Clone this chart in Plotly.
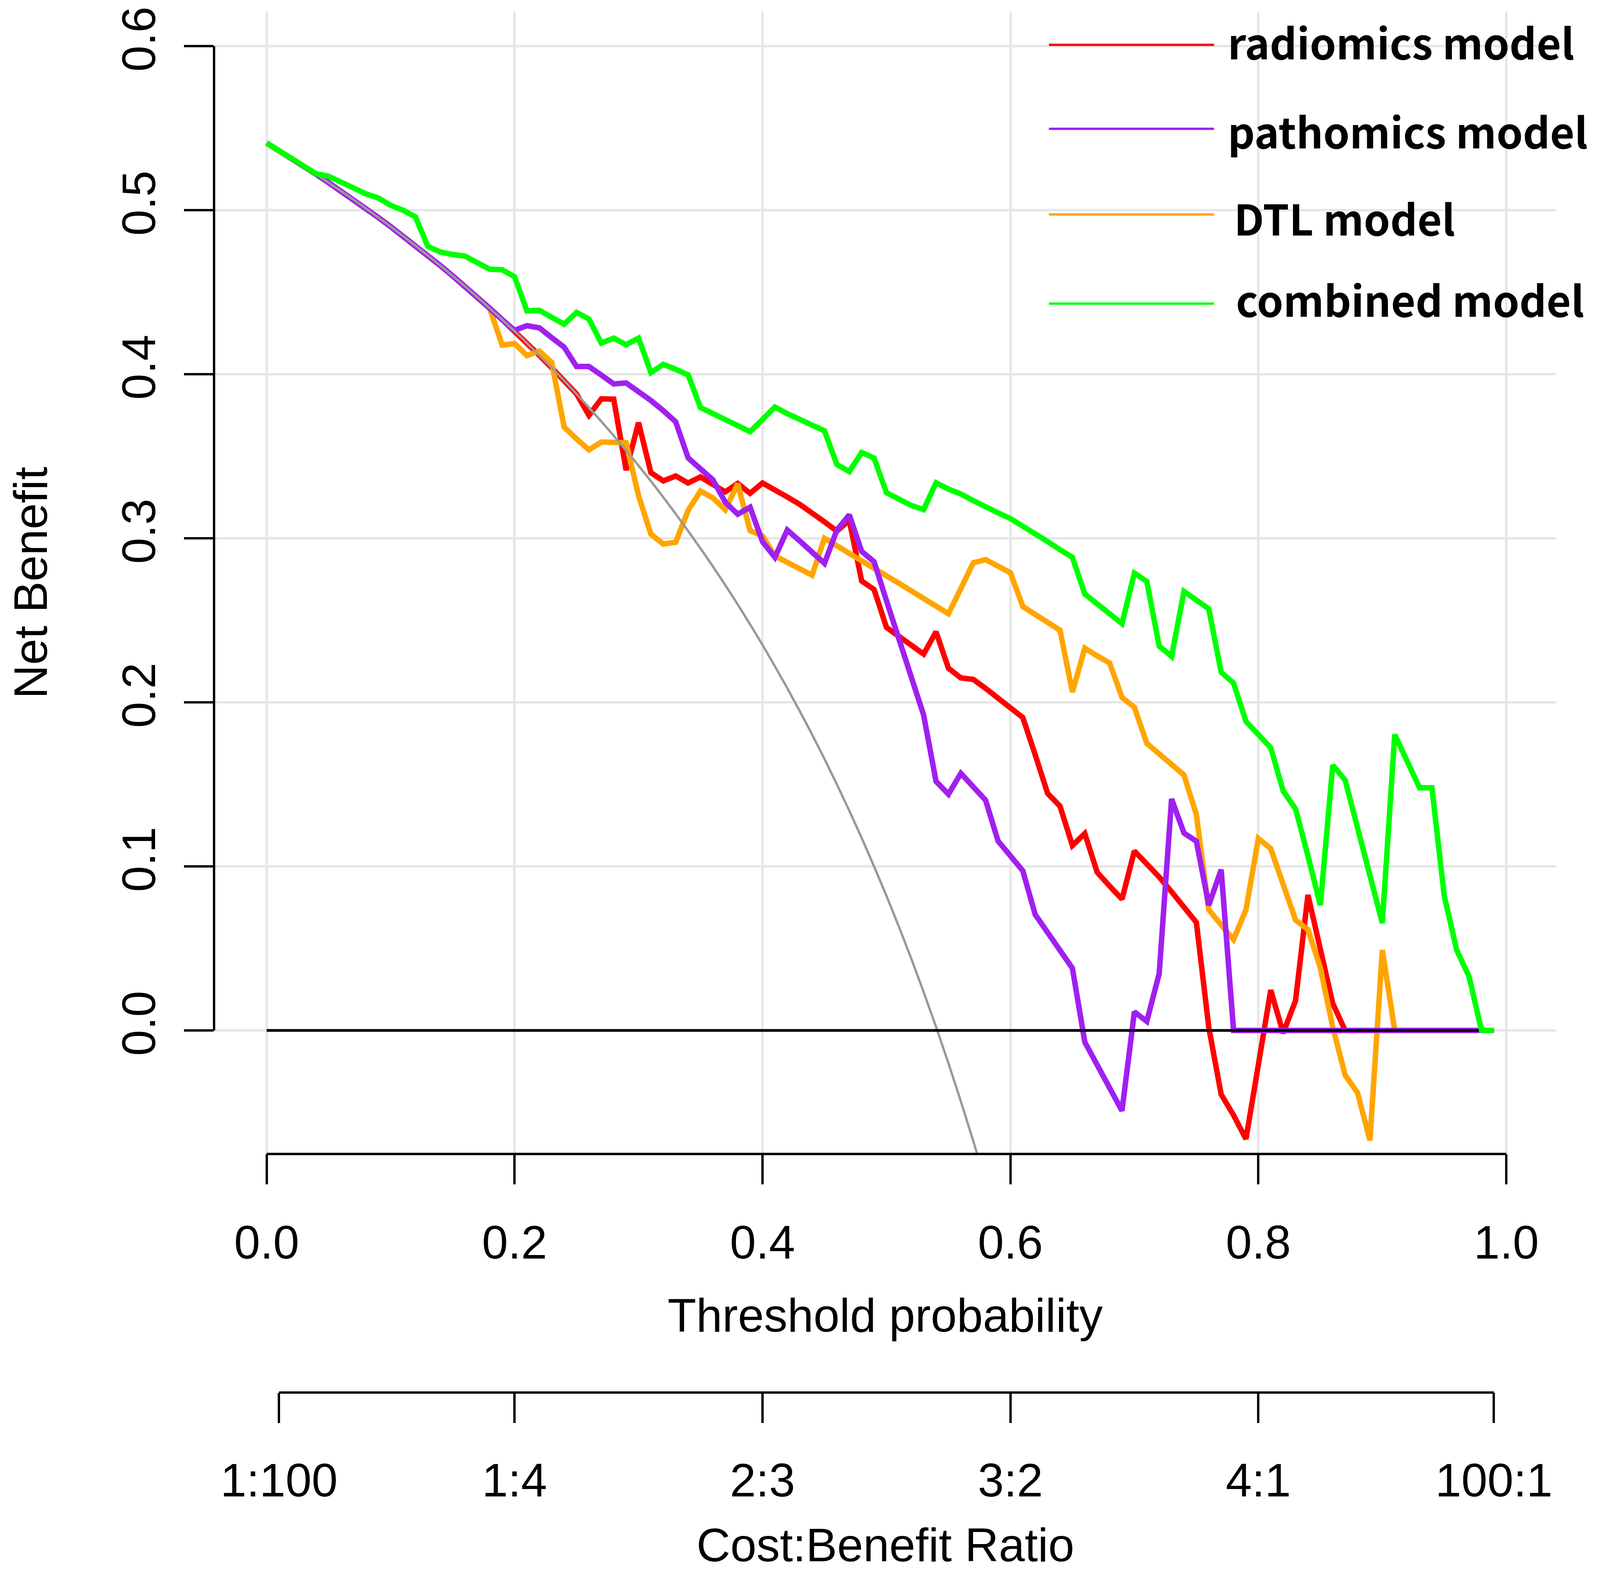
import plotly.graph_objects as go

# threshold grid (0.00 .. 0.99)
thresholds = [round(i / 100, 2) for i in range(100)]

# treat-all reference curve (0.00 .. 0.58)
treat_all = [0.541, 0.5364, 0.5316, 0.5268, 0.5219, 0.5168, 0.5117, 0.5065, 0.5011, 0.4956,
             0.4900, 0.4843, 0.4784, 0.4724, 0.4663, 0.4600, 0.4536, 0.4470, 0.4402, 0.4333,
             0.4263, 0.4190, 0.4115, 0.4039, 0.3961, 0.3880, 0.3797, 0.3712, 0.3625, 0.3535,
             0.3443, 0.3348, 0.3250, 0.3149, 0.3045, 0.2938, 0.2828, 0.2714, 0.2597, 0.2475,
             0.2350, 0.2220, 0.2086, 0.1947, 0.1804, 0.1655, 0.1500, 0.1340, 0.1173, 0.1000,
             0.0820, 0.0633, 0.0438, 0.0234, 0.0022, -0.0200, -0.0432, -0.0674, -0.0929]

radiomics = [0.541, 0.5364, 0.5316, 0.5268, 0.5219, 0.5168, 0.5117, 0.5065, 0.5011, 0.4956,
             0.4900, 0.4843, 0.4784, 0.4724, 0.4663, 0.4600, 0.4536, 0.4470, 0.4402, 0.4333,
             0.4263, 0.4190, 0.4115, 0.4039, 0.3961, 0.3880, 0.375, 0.385, 0.3848, 0.3415,
             0.3705, 0.340, 0.335, 0.338, 0.3337, 0.3374, 0.3328, 0.3283, 0.3334, 0.3274,
             0.3337, 0.3298, 0.3252, 0.3207, 0.3157, 0.310, 0.3044, 0.311, 0.274, 0.2688,
             0.2457, 0.240, 0.2348, 0.2294, 0.243, 0.2208, 0.2149, 0.214, 0.2085, 0.2027,
             0.1967, 0.1907, 0.168, 0.1445, 0.1367, 0.1127, 0.120, 0.0964, 0.088, 0.080,
             0.1094, 0.102, 0.0935, 0.0845, 0.0754, 0.0658, 0.0019, -0.039, -0.0517, -0.0662,
             -0.021, 0.0246, -0.0017, 0.0182, 0.0826, 0.051, 0.0164, 0.0, 0.0, 0.0,
             0.0, 0.0, 0.0, 0.0, 0.0, 0.0, 0.0, 0.0, 0.0, 0.0]

pathomics = [0.541, 0.5364, 0.5316, 0.5268, 0.5219, 0.5168, 0.5117, 0.5065, 0.5011, 0.4956,
             0.4900, 0.4843, 0.4784, 0.4724, 0.4663, 0.4600, 0.4536, 0.4470, 0.4402, 0.4333,
             0.4268, 0.4296, 0.4283, 0.4223, 0.4165, 0.4047, 0.4047, 0.3995, 0.3941, 0.3947,
             0.3896, 0.384, 0.3778, 0.371, 0.349, 0.342, 0.3356, 0.322, 0.3147, 0.3189,
             0.298, 0.2884, 0.305, 0.2984, 0.2917, 0.2847, 0.305, 0.3143, 0.292, 0.2857,
             0.262, 0.2385, 0.2158, 0.1922, 0.1518, 0.144, 0.1567, 0.149, 0.1403, 0.1155,
             0.1064, 0.0973, 0.0706, 0.0599, 0.0488, 0.0379, -0.0071, -0.021, -0.035, -0.049,
             0.0113, 0.0055, 0.0346, 0.1411, 0.1203, 0.1153, 0.0763, 0.098, 0.0, 0.0,
             0.0, 0.0, 0.0, 0.0, 0.0, 0.0, 0.0, 0.0, 0.0, 0.0,
             0.0, 0.0, 0.0, 0.0, 0.0, 0.0, 0.0, 0.0, 0.0, 0.0]

dtl = [0.541, 0.5364, 0.5316, 0.5268, 0.5219, 0.5168, 0.5117, 0.5065, 0.5011, 0.4956,
       0.4900, 0.4843, 0.4784, 0.4724, 0.4663, 0.4600, 0.4536, 0.4470, 0.4400, 0.4178,
       0.4187, 0.4114, 0.4141, 0.4072, 0.3678, 0.3606, 0.3539, 0.3587, 0.3584, 0.3582,
       0.326, 0.3025, 0.2965, 0.2976, 0.317, 0.3288, 0.3246, 0.3174, 0.3332, 0.3047,
       0.3014, 0.2893, 0.2853, 0.2815, 0.2775, 0.300, 0.2956, 0.291, 0.2864, 0.2818,
       0.2771, 0.2726, 0.2679, 0.2634, 0.2587, 0.254, 0.2693, 0.2851, 0.287, 0.283,
       0.279, 0.2584, 0.2537, 0.2488, 0.2439, 0.2063, 0.233, 0.2283, 0.224, 0.203,
       0.197, 0.175, 0.1686, 0.162, 0.1557, 0.1315, 0.0736, 0.0643, 0.0554, 0.0736,
       0.117, 0.1108, 0.0893, 0.0673, 0.0614, 0.0382, 0.002, -0.0272, -0.038, -0.067,
       0.049, 0.0, 0.0, 0.0, 0.0, 0.0, 0.0, 0.0, 0.0, 0.0]

combined = [0.541, 0.5364, 0.5316, 0.5268, 0.5222, 0.5207, 0.5171, 0.5143, 0.510, 0.5075,
            0.503, 0.500, 0.496, 0.478, 0.4746, 0.473, 0.472, 0.468, 0.464, 0.4637,
            0.4595, 0.4386, 0.439, 0.4347, 0.4305, 0.4377, 0.4337, 0.419, 0.422, 0.418,
            0.422, 0.401, 0.406, 0.403, 0.3996, 0.3797, 0.3759, 0.3722, 0.3686, 0.365,
            0.3724, 0.380, 0.376, 0.3726, 0.369, 0.3655, 0.345, 0.3407, 0.3523, 0.3489,
            0.3278, 0.3238, 0.320, 0.3175, 0.3338, 0.330, 0.327, 0.323, 0.319, 0.3155,
            0.312, 0.3075, 0.303, 0.298, 0.293, 0.2884, 0.266, 0.260, 0.2545, 0.248,
            0.2788, 0.2737, 0.2343, 0.228, 0.2676, 0.262, 0.257, 0.2184, 0.2117, 0.1884,
            0.1806, 0.1723, 0.146, 0.135, 0.1064, 0.0763, 0.1617, 0.1526, 0.1235, 0.0945,
            0.0654, 0.1804, 0.1645, 0.1479, 0.1479, 0.0818, 0.049, 0.0328, 0.0, 0.0]

treat_none = [0.0] * 100

model_names = ["radiomics model", "pathomics model", "DTL model", "combined model"]
model_colors = ["#FF0000", "#A020F0", "#FFA500", "#00FF00"]

x_ticks = [0, 0.2, 0.4, 0.6, 0.8, 1.0]
x_labels = ["0.0", "0.2", "0.4", "0.6", "0.8", "1.0"]
y_ticks = [0, 0.1, 0.2, 0.3, 0.4, 0.5, 0.6]
y_labels = ["0.0", "0.1", "0.2", "0.3", "0.4", "0.5", "0.6"]
cb_ticks = [0.01, 0.2, 0.4, 0.6, 0.8, 0.99]
cb_labels = ["1:100", "1:4", "2:3", "3:2", "4:1", "100:1"]

# the captured page is 4096 px wide with an 8 px body margin, so the
# reference layout (4326 wide) is squeezed horizontally to fit it
SX = 4096 / 4326
W, H = 4088, 4019
left = 579 * SX - 8
right = W - (4208 * SX - 8)

FONT = "Liberation Sans"

fig = go.Figure()

# drawing order: red, orange, purple, then grey/black references, green last
fig.add_trace(go.Scatter(x=thresholds, y=radiomics, mode="lines",
                         line=dict(color=model_colors[0], width=14)))
fig.add_trace(go.Scatter(x=thresholds, y=dtl, mode="lines",
                         line=dict(color=model_colors[2], width=14)))
fig.add_trace(go.Scatter(x=thresholds, y=pathomics, mode="lines",
                         line=dict(color=model_colors[1], width=14)))
fig.add_trace(go.Scatter(x=thresholds[:len(treat_all)], y=treat_all, mode="lines",
                         line=dict(color="#999999", width=6, shape="spline")))
fig.add_trace(go.Scatter(x=thresholds, y=treat_none, mode="lines",
                         line=dict(color="black", width=7)))
fig.add_trace(go.Scatter(x=thresholds, y=combined, mode="lines",
                         line=dict(color=model_colors[3], width=14)))
# carrier for the cost:benefit axis
fig.add_trace(go.Scatter(x=cb_ticks, y=[0] * len(cb_ticks), xaxis="x2", mode="markers",
                         marker=dict(opacity=0), hoverinfo="skip"))

tick_font = dict(family=FONT, size=120, color="black")
tick_common = dict(ticks="outside", tickwidth=6, tickcolor="black", tickfont=tick_font,
                   showline=False, zeroline=False, ticklabeloverflow="allow")

fig.update_layout(
    width=W, height=H,
    margin=dict(l=left, r=right, t=9, b=462),
    plot_bgcolor="white", paper_bgcolor="white",
    showlegend=False,
    xaxis=dict(range=[-0.0424, 1.0403], tickvals=x_ticks, ticktext=x_labels,
               showgrid=True, gridcolor="#e6e6e6", gridwidth=6, anchor="y",
               ticklen=77, ticklabelstandoff=46, **tick_common),
    yaxis=dict(range=[-0.0753, 0.621], domain=[0.1728, 1], tickvals=y_ticks,
               ticktext=y_labels, tickangle=-90,
               showgrid=True, gridcolor="#e6e6e6", gridwidth=6,
               ticklen=76, ticklabelstandoff=26, **tick_common),
    xaxis2=dict(range=[-0.0424, 1.0403], overlaying="x", anchor="free", position=0,
                tickvals=cb_ticks, ticktext=cb_labels, showgrid=False,
                ticklen=77, ticklabelstandoff=44, **tick_common),
)

# R-style axis lines spanning only the tick range
axis_line = dict(color="black", width=6)
fig.add_shape(type="line", xref="paper", yref="y", x0=0, x1=0, y0=0, y1=0.6, line=axis_line)
fig.add_shape(type="line", xref="x", yref="y domain", x0=0, x1=1, y0=0, y1=0, line=axis_line)
fig.add_shape(type="line", xref="x", yref="paper", x0=0.01, x1=0.99, y0=0, y1=0, line=axis_line)

# axis titles
title_font = dict(family=FONT, size=120, color="black")
fig.add_annotation(text="Threshold probability", xref="paper", yref="paper", x=0.5, y=0.0561,
                   showarrow=False, font=title_font, xanchor="center", yanchor="middle")
fig.add_annotation(text="Cost:Benefit Ratio", xref="paper", yref="paper", x=0.5, y=-0.1103,
                   showarrow=False, font=title_font, xanchor="center", yanchor="middle")
fig.add_annotation(text="Net Benefit", xref="paper", yref="paper", x=-0.1368, y=0.5865,
                   showarrow=False, font=title_font, textangle=-90,
                   xanchor="center", yanchor="middle")

# legend drawn by hand (long line samples, bold labels)
leg_y = [0.9760, 0.9152, 0.8532, 0.7886]
leg_text_x = [0.7547, 0.7547, 0.7594, 0.7608]
leg_text_y = [0.9789, 0.9143, 0.8512, 0.7923]
for name, col, ly, tx, ty in zip(model_names, model_colors, leg_y, leg_text_x, leg_text_y):
    fig.add_shape(type="line", xref="paper", yref="paper", x0=0.622, x1=0.745,
                  y0=ly, y1=ly, line=dict(color=col, width=6))
    fig.add_annotation(text="<b>" + name + "</b>", xref="paper", yref="paper", x=tx, y=ty,
                       showarrow=False, xanchor="left", yanchor="middle",
                       font=dict(family="Noto Sans CJK SC", size=108, color="black"))

fig.write_html("out.html")
